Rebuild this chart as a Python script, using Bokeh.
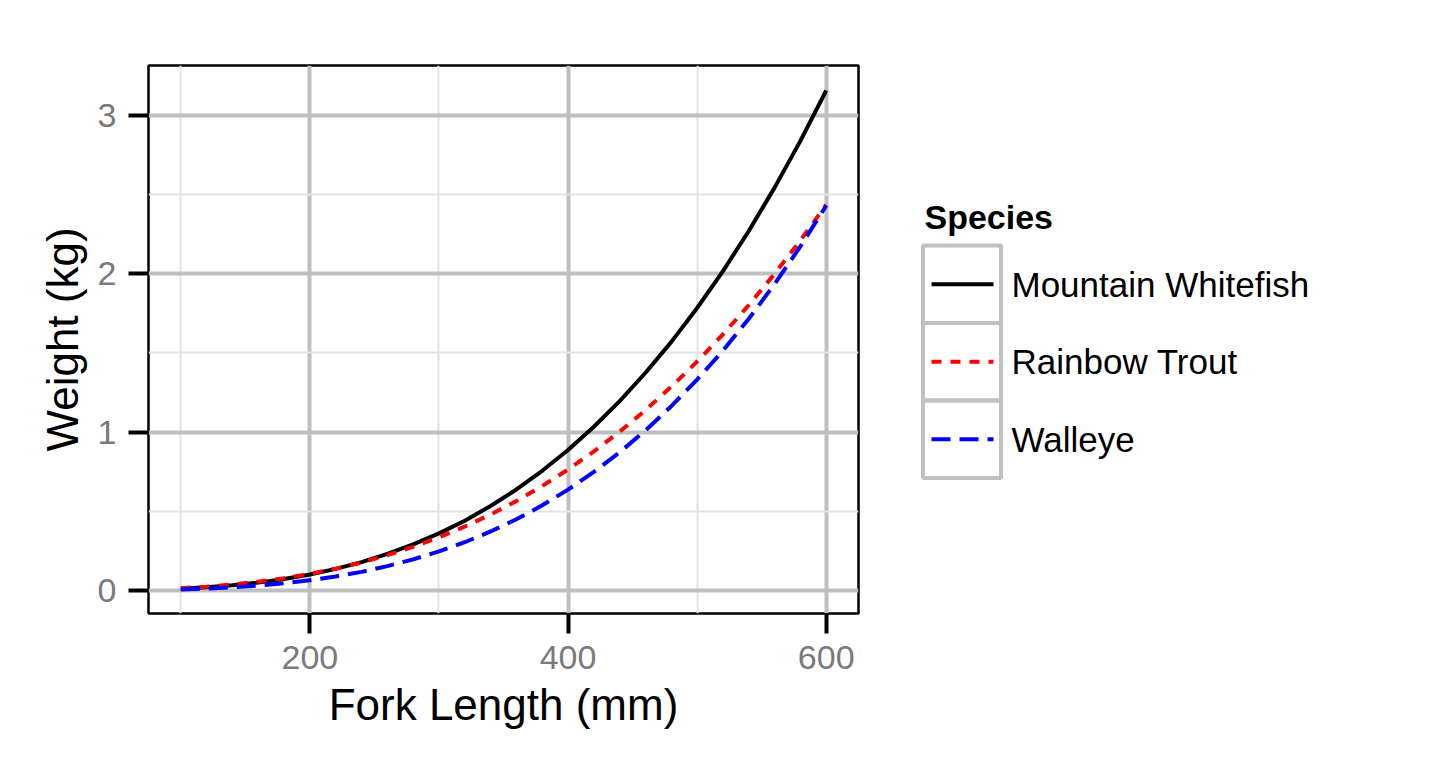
from bokeh.plotting import figure
from bokeh.layouts import row
from bokeh.models import Range1d, FixedTicker, ColumnDataSource
from bokeh.core.properties import value
from bokeh.embed import file_html
from bokeh.resources import INLINE

# ---- data ----
fork_length = [100, 120, 140, 160, 180, 200, 220, 240, 260, 280, 300, 320, 340,
               360, 380, 400, 420, 440, 460, 480, 500, 520, 540, 560, 580, 600]
mountain_whitefish = [0.012, 0.021, 0.033, 0.050, 0.073, 0.101, 0.137, 0.179,
                      0.231, 0.291, 0.361, 0.441, 0.534, 0.638, 0.756, 0.887,
                      1.034, 1.196, 1.375, 1.570, 1.784, 2.017, 2.270, 2.544,
                      2.839, 3.157]
rainbow_trout = [0.015, 0.024, 0.038, 0.056, 0.078, 0.105, 0.138, 0.177,
                 0.223, 0.276, 0.336, 0.404, 0.480, 0.565, 0.660, 0.764,
                 0.878, 1.003, 1.139, 1.287, 1.446, 1.618, 1.802, 2.000,
                 2.211, 2.436]
walleye = [0.007, 0.012, 0.020, 0.031, 0.046, 0.065, 0.089, 0.118,
           0.154, 0.197, 0.247, 0.305, 0.373, 0.450, 0.538, 0.637,
           0.749, 0.873, 1.011, 1.164, 1.332, 1.515, 1.716, 1.935,
           2.173, 2.430]

species = ["Mountain Whitefish", "Rainbow Trout", "Walleye"]
series = [mountain_whitefish, rainbow_trout, walleye]
colors = ["#000000", "#ff0000", "#0000ff"]
dashes = ["solid", "10 9", "19 9"]

x_ticks = [200, 400, 600]
x_minor = [100, 300, 500]
y_ticks = [0, 1, 2, 3]
y_minor = [0.5, 1.5, 2.5]

FONT = "Liberation Sans"

# ---- main plot ----
p = figure(width=900, height=768, output_backend="svg", toolbar_location=None,
           x_range=Range1d(75, 625), y_range=Range1d(-0.145, 3.315),
           min_border_left=148, min_border_right=42,
           min_border_top=65, min_border_bottom=155)
p.background_fill_color = "white"
p.border_fill_color = "white"
p.outline_line_color = "black"
p.outline_line_width = 2.5

p.xaxis.ticker = FixedTicker(ticks=x_ticks, minor_ticks=x_minor)
p.yaxis.ticker = FixedTicker(ticks=y_ticks, minor_ticks=y_minor)

for g in (p.xgrid, p.ygrid):
    g.grid_line_color = "#bfbfbf"
    g.grid_line_width = 4
    g.minor_grid_line_color = "#e3e3e3"
    g.minor_grid_line_width = 2

for ax in (p.xaxis, p.yaxis):
    ax.axis_line_color = None
    ax.major_tick_out = 20
    ax.major_tick_in = 0
    ax.minor_tick_out = 0
    ax.minor_tick_in = 0
    ax.major_tick_line_width = 4
    ax.major_tick_line_color = "black"
    ax.major_label_text_font = FONT
    ax.major_label_text_font_size = "34px"
    ax.major_label_text_color = "#7a7a7a"
    ax.major_label_standoff = 12
    ax.axis_label_text_font = FONT
    ax.axis_label_text_font_size = "44px"
    ax.axis_label_text_font_style = "normal"
    ax.axis_label_text_color = "black"
    ax.axis_label_standoff = 8

p.xaxis.axis_label = "Fork Length (mm)"
p.yaxis.axis_label = "Weight (kg)"

for name, ys, c, d in zip(species, series, colors, dashes):
    src = ColumnDataSource(dict(x=fork_length, y=ys))
    p.line("x", "y", source=src, line_color=c, line_width=4, line_dash=d)

# ---- legend panel (data coordinates = page pixels) ----
q = figure(width=540, height=768, output_backend="svg", toolbar_location=None,
           x_range=Range1d(900, 1440), y_range=Range1d(613, 65),
           x_axis_type=None, y_axis_type=None,
           min_border_left=0, min_border_right=0, min_border_top=65, min_border_bottom=155)
q.outline_line_color = None
q.background_fill_color = "white"
q.border_fill_color = "white"
q.grid.visible = False

q.text(x=[924], y=[216], text=["Species"], text_font=value(FONT),
       text_font_style="bold", text_font_size="34px", text_baseline="middle",
       text_color="black")

key_top = 245
key_h = 77.5
for i, (name, c, d) in enumerate(zip(species, colors, dashes)):
    top = key_top + i * key_h
    bot = top + key_h
    mid = (top + bot) / 2
    q.quad(left=[922.5], right=[1000.5], top=[top], bottom=[bot],
           fill_color=None, line_color="#c0c0c0", line_width=4)
    q.segment(x0=[931], y0=[mid], x1=[993], y1=[mid], line_color=c,
              line_width=4, line_dash=d)
    q.text(x=[1011], y=[mid], text=[name], text_font=value(FONT),
           text_font_size="35px", text_baseline="middle", text_color="black")

layout = row(p, q)
open("out.html", "w").write(file_html(layout, INLINE))
